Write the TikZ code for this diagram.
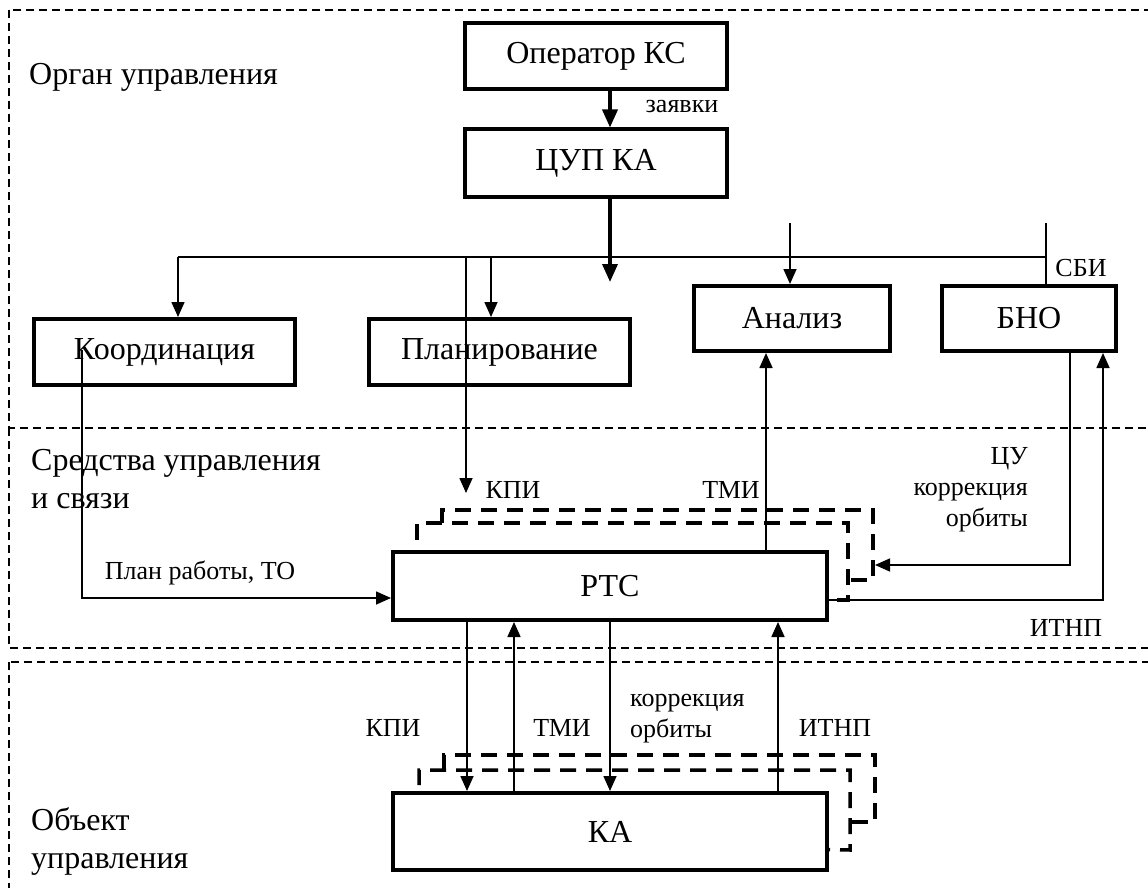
\documentclass[tikz,border=0pt]{standalone}
\usepackage{fontspec}
\setmainfont{Liberation Serif}
\usetikzlibrary{arrows.meta}
\usetikzlibrary{positioning}

\tikzset{
  block/.style={draw, line width=4pt, inner sep=0pt, font=\fontsize{32}{38}\selectfont},
  lbl/.style={inner sep=0pt, font=\fontsize{26}{31}\selectfont},
  zone/.style={inner sep=0pt, align=left, anchor=west, font=\fontsize{32}{38}\selectfont},
  arr/.style={line width=1.6pt, -{Triangle[length=15pt,width=13pt]}},
  bigarr/.style={line width=3.5pt, -{Triangle[length=18pt,width=15pt]}},
  region/.style={line width=1.2pt, dash pattern=on 8pt off 5pt},
  link/.style={line width=3.5pt, dash pattern=on 16pt off 10pt},
}

\begin{document}
\begin{tikzpicture}[x=1pt,y=-1pt]
  \useasboundingbox (0,0) rectangle (1148,888);

  % zones
  \begin{scope}
    \clip (0,0) rectangle (1148,888);
    \draw[region] (9,10) rectangle (1170,428);
    \draw[region] (9,428) rectangle (1170,648);
    \draw[region] (9,662) rectangle (1170,910);
  \end{scope}
  \node[zone] (z1) at (29,77) {Орган управления};
  \node[zone] (z2) at (31,479) {Средства управления\\и связи};
  \node[zone] (z3) at (31,841) {Объект\\управления};

  % blocks
  \node[block, minimum width=262pt, minimum height=66pt] (op)    at (596,56)    {Оператор КС};
  \node[block, minimum width=262pt, minimum height=67pt] (cup)   at (596,163)   {ЦУП КА};
  \node[block, minimum width=261pt, minimum height=66pt] (koord) at (164.5,352) {Координация};
  \node[block, minimum width=261pt, minimum height=66pt] (plan)  at (499.5,352) {Планирование};
  \node[block, minimum width=196pt, minimum height=65pt] (anal)  at (792,318.5) {Анализ};
  \node[block, minimum width=174pt, minimum height=65pt] (bno)   at (1029,318.5) {БНО};
  \node[block, minimum width=434pt, minimum height=68pt] (rtc)   at (610,586)   {РТС};
  \node[block, minimum width=434pt, minimum height=77pt] (ka)    at (610,831.5) {КА};

  % bus
  \coordinate (busL) at (178,257);
  \coordinate (busR) at (1046,257);
  \coordinate (b1) at (466,257);
  \coordinate (b2) at (491,257);
  \coordinate (tip) at (610,282);
  \coordinate (kpi) at (466,493);
  \coordinate (a0) at (790,223);
  \coordinate (s0) at (1046,223);
  \coordinate (k0) at (82,350);
  \coordinate (cu) at (875,565);

  \draw[bigarr] ([xshift=14pt]op.south) -- ([xshift=14pt]cup.north);
  \draw[bigarr] ([xshift=14pt]cup.south) -- (tip);
  \draw[line width=1.6pt] (busR) -- (busL);
  \draw[arr] (busL) -- (busL |- koord.north);
  \draw[arr] (b2) -- (b2 |- plan.north);
  \draw[arr] (b1) -- (kpi);
  \draw[arr] (a0) -- (a0 |- anal.north);
  \draw[line width=1.6pt] (s0) -- (s0 |- bno.north);

  \draw[arr] (k0) |- ([yshift=-12pt]rtc.west);
  \draw[arr] ([xshift=156pt]rtc.north) -- ([xshift=156pt]rtc.north |- anal.south);
  \draw[arr] ([xshift=41pt]bno.south) |- (cu);
  \draw[arr] ([yshift=-14pt]rtc.east) -| ([xshift=74pt]bno.south);

  \draw[arr] ([xshift=-143pt]rtc.south) -- ([xshift=-143pt]ka.north);
  \draw[arr] ([xshift=-96pt]ka.north) -- ([xshift=-96pt]rtc.south);
  \draw[arr] (rtc.south) -- (ka.north);
  \draw[arr] ([xshift=168pt]ka.north) -- ([xshift=168pt]rtc.south);

  % radio links
  \draw[link] (442,523) -- (442,510) -- (873,510) -- (873,580) -- (850,580);
  \draw[link] (417,540) -- (417,523) -- (848,523) -- (848,600) -- ([yshift=-14pt]rtc.east);
  \draw[link] (444,770) -- (444,755) -- (875,755) -- (875,822) -- (850,822);
  \draw[link] (419,785) -- (419,770) -- (850,770) -- (850,850) -- ([yshift=-18pt]ka.east);

  % labels
  \node[lbl] (l1) at (682,107) {заявки};
  \node[lbl] (l2) at (1081,268) {СБИ};
  \node[lbl] (l3) at (513,490) {КПИ};
  \node[lbl] (l4) at (731,490) {ТМИ};
  \node[lbl, align=right, anchor=east] (l5) at (1028,490) {ЦУ\\коррекция\\орбиты};
  \node[lbl] (l6) at (200,573) {План работы, ТО};
  \node[lbl] (l7) at (1066,628) {ИТНП};
  \node[lbl] (l8) at (393,728) {КПИ};
  \node[lbl] (l9) at (562,728) {ТМИ};
  \node[lbl, align=left, anchor=west] (l10) at (630,719) {коррекция\\орбиты};
  \node[lbl] (l11) at (835,728) {ИТНП};
\end{tikzpicture}
\end{document}
